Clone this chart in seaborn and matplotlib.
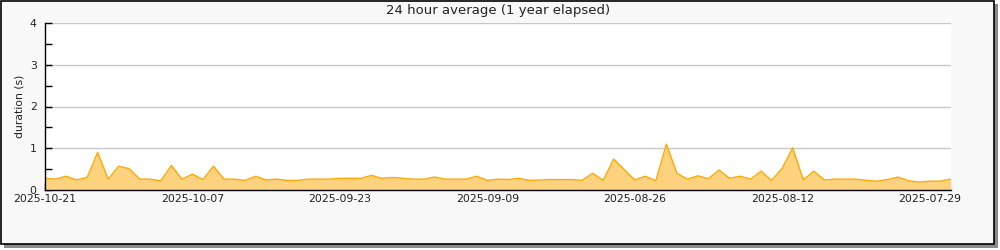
import numpy as np
import pandas as pd
import matplotlib
matplotlib.use("Agg")
import matplotlib.pyplot as plt
from matplotlib.patches import Rectangle
from matplotlib.ticker import MultipleLocator
import seaborn as sns

# ---- data ----
end_date = "2025-10-21"
n_days = 87
values = [0.28, 0.26, 0.33, 0.24, 0.30, 0.90, 0.26, 0.57, 0.51, 0.26,
          0.26, 0.22, 0.59, 0.26, 0.38, 0.25, 0.57, 0.26, 0.26, 0.23,
          0.33, 0.24, 0.26, 0.23, 0.23, 0.26, 0.26, 0.26, 0.28, 0.28,
          0.28, 0.35, 0.28, 0.30, 0.28, 0.26, 0.26, 0.31, 0.26, 0.26,
          0.26, 0.33, 0.23, 0.26, 0.25, 0.28, 0.23, 0.24, 0.25, 0.25,
          0.25, 0.23, 0.40, 0.23, 0.74, 0.49, 0.24, 0.33, 0.22, 1.10,
          0.40, 0.26, 0.34, 0.27, 0.48, 0.28, 0.33, 0.26, 0.45, 0.23,
          0.52, 1.01, 0.24, 0.45, 0.24, 0.26, 0.26, 0.26, 0.23, 0.21,
          0.25, 0.31, 0.22, 0.19, 0.21, 0.21, 0.26]
tick_labels = ["2025-10-21", "2025-10-07", "2025-09-23", "2025-09-09",
               "2025-08-26", "2025-08-12", "2025-07-29"]
minor_tick_labels = ["2025-10-14", "2025-09-30", "2025-09-16", "2025-09-02",
                     "2025-08-19", "2025-08-05"]
title = "24 hour average (1 year elapsed)"
ylabel = "duration (s)"

dates = pd.date_range(end=end_date, periods=n_days, freq="D")[::-1]
df = pd.DataFrame({"date": dates, "value": values})

# ---- figure ----
sns.set_theme(style="white")
plt.rcParams["font.family"] = ["DejaVu Sans"]

fig = plt.figure(figsize=(10, 2.5), dpi=100, facecolor="white")
W, H = 1000, 250
# shadow and frame
fig.patches.append(Rectangle((4 / W, 1 - 247.5 / H), 994 / W, 243.5 / H,
                             transform=fig.transFigure, facecolor="#8a8a8a",
                             edgecolor="none", zorder=0))
fig.patches.append(Rectangle((0.5 / W, 1 - 243.5 / H), 993.5 / W, 243 / H,
                             transform=fig.transFigure, facecolor="#f8f8f8",
                             edgecolor="black", linewidth=1.2, zorder=1))

ax = fig.add_axes([45 / W, 1 - 190 / H, (950.7 - 45) / W, (190 - 23) / H])
ax.set_facecolor("white")
ax.set_zorder(2)

ax.fill_between(df["date"], 0, df["value"], color="#ffd27f", linewidth=0, zorder=2)
sns.lineplot(data=df, x="date", y="value", ax=ax, color="#ffa800",
             linewidth=1.0, zorder=3)

ax.set_xlim(dates[0], dates[-1])
ax.set_ylim(0, 4)

ax.yaxis.set_major_locator(MultipleLocator(1))
ax.yaxis.set_minor_locator(MultipleLocator(0.5))
ax.grid(axis="y", which="major", color="#c8c8c8", linewidth=1, zorder=1)
ax.set_axisbelow(True)

ax.set_xticks(pd.to_datetime(tick_labels))
ax.set_xticklabels(tick_labels)
ax.set_xticks(pd.to_datetime(minor_tick_labels), minor=True)

ax.tick_params(axis="both", which="both", direction="in", color="black",
               labelsize=7.8, labelcolor="#222222", width=1, bottom=True, left=True)
ax.tick_params(axis="both", which="major", length=5)
ax.tick_params(axis="both", which="minor", length=5)
ax.tick_params(axis="x", pad=3)
ax.tick_params(axis="y", pad=6)

for s in ["top", "right"]:
    ax.spines[s].set_visible(False)
for s in ["left", "bottom"]:
    ax.spines[s].set_color("black")
    ax.spines[s].set_linewidth(1)
    ax.spines[s].set_zorder(5)

ax.set_xlabel("")
ax.set_ylabel(ylabel, fontsize=7.8, color="#222222", va="center")
ax.yaxis.set_label_coords((20 - 45) / (950.7 - 45), 0.5)
fig.text(498 / W, 1 - 10.5 / H, title, ha="center", va="center",
         fontsize=9.5, color="#222222")

fig.savefig("out.png", dpi=100, facecolor="white")
